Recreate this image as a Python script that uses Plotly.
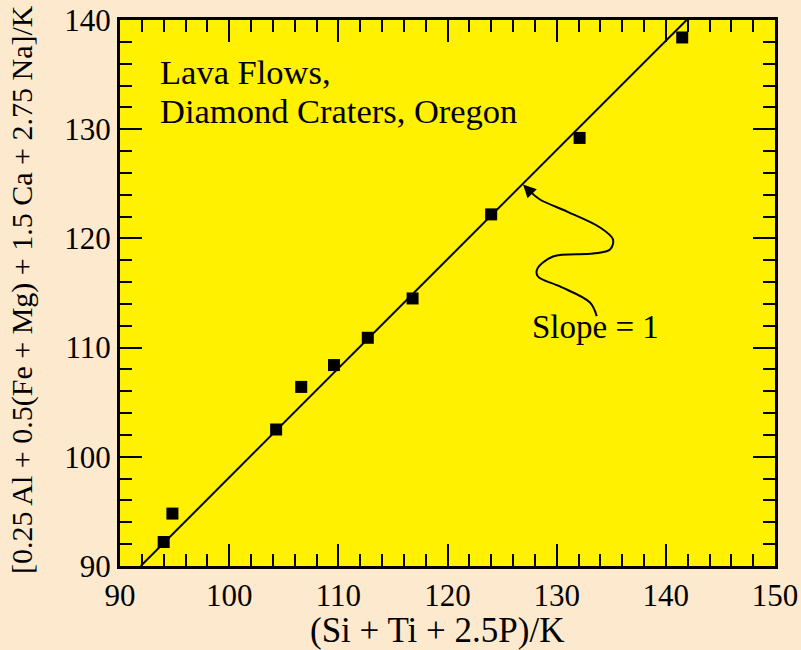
import plotly.graph_objects as go

# Data
x_vals = [94.0, 94.8, 104.3, 106.6, 109.6, 112.7, 116.8, 124.0, 132.1, 141.5]
y_vals = [92.2, 94.8, 102.5, 106.4, 108.4, 110.9, 114.5, 122.2, 129.2, 138.4]
fit_slope = 1.0
fit_intercept = -1.9
fit_x = [91.9, 141.9]
fit_y = [fit_slope * v + fit_intercept for v in fit_x]

# wavy arrow path for "Slope = 1" annotation (data coordinates)
wave_x = [133.67, 133.05, 130.30, 128.29, 128.2, 129.66, 133.33, 134.88, 135.16, 133.97, 130.95, 128.47, 127.5]
wave_y = [112.88, 114.13, 115.60, 116.51, 117.15, 118.34, 118.61, 118.98, 119.9, 121.0, 122.46, 123.56, 124.35]
arrow_tip = (126.92, 124.94)

x_ticks = [90, 100, 110, 120, 130, 140, 150]
y_ticks = [90, 100, 110, 120, 130, 140]

x_title = "(Si + Ti + 2.5P)/K"
y_title = "[0.25 Al + 0.5(Fe + Mg) + 1.5 Ca + 2.75 Na]/K"

FONT = "Liberation Serif"

W, H = 801, 650
ML, MR, MT, MB = 120, 26, 20, 84
pw = W - ML - MR
ph = H - MT - MB

fig = go.Figure()
fig.add_trace(go.Scatter(x=fit_x, y=fit_y, mode="lines",
                         line=dict(color="black", width=2), hoverinfo="skip"))
fig.add_trace(go.Scatter(x=wave_x, y=wave_y, mode="lines",
                         line=dict(color="black", width=2, shape="spline", smoothing=1.0),
                         hoverinfo="skip"))
fig.add_trace(go.Scatter(x=x_vals, y=y_vals, mode="markers",
                         marker=dict(symbol="square", size=12, color="black",
                                     line=dict(width=0))))

fig.add_annotation(x=arrow_tip[0], y=arrow_tip[1], ax=wave_x[-1], ay=wave_y[-1],
                   xref="x", yref="y", axref="x", ayref="y", text="",
                   showarrow=True, arrowhead=2, arrowsize=1.3, arrowwidth=2,
                   arrowcolor="black")
fig.add_annotation(x=133.6, y=111.9, xref="x", yref="y", text="Slope = 1",
                   showarrow=False, font=dict(family=FONT, size=33, color="black"))
fig.add_annotation(x=93.5, y=135.2, xref="x", yref="y", text="Lava Flows,",
                   showarrow=False, xanchor="left", yanchor="middle", align="left",
                   font=dict(family=FONT, size=34.5, color="black"))
fig.add_annotation(x=93.5, y=131.7, xref="x", yref="y", text="Diamond Craters, Oregon",
                   showarrow=False, xanchor="left", yanchor="middle", align="left",
                   font=dict(family=FONT, size=34.5, color="black"))

# axis titles as annotations placed relative to the plot domain
fig.add_annotation(x=(437 - ML) / pw, y=(H - MB - 630) / ph, xref="x domain", yref="y domain",
                   xanchor="center", yanchor="middle", text=x_title,
                   showarrow=False, font=dict(family=FONT, size=35, color="black"))
fig.add_annotation(x=(22 - ML) / pw, y=(H - MB - 290) / ph, xref="x domain", yref="y domain",
                   xanchor="center", yanchor="middle", text=y_title, textangle=-90,
                   showarrow=False, font=dict(family=FONT, size=30, color="black"))

axis_common = dict(
    showline=True, linecolor="black", linewidth=3, mirror="allticks",
    ticks="inside", ticklen=22, tickwidth=2, tickcolor="black",
    showgrid=False, zeroline=False, automargin=False,
    tickfont=dict(family=FONT, size=31, color="black"),
    minor=dict(ticks="inside", ticklen=12, tickwidth=2, tickcolor="black", dtick=2, showgrid=False),
)

fig.update_xaxes(range=[90, 150], tickvals=x_ticks, **axis_common)
fig.update_yaxes(range=[90, 140], tickvals=y_ticks, **axis_common)

fig.update_layout(
    width=W, height=H,
    margin=dict(l=ML, r=MR, t=MT, b=MB),
    paper_bgcolor="#FDE9CD",
    plot_bgcolor="#FFF100",
    showlegend=False,
)

fig.write_html("out.html")
